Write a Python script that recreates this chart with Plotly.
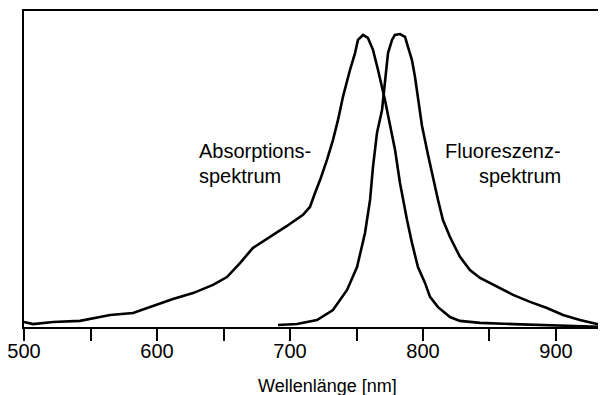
import plotly.graph_objects as go

# Absorption spectrum (wavelength nm, relative intensity)
abs_nm = [500.0, 506.8, 521.8, 542.1, 557.1, 564.7, 582.0, 594.7, 612.0, 627.1,
          642.1, 652.6, 662.4, 672.2, 682.7, 697.7, 709.8, 715.0, 718.8, 722.6,
          727.8, 732.3, 736.1, 739.8, 745.1, 748.9, 751.1, 754.9, 758.6, 762.4,
          766.2, 769.2, 771.4, 775.2, 779.0, 782.7, 785.0, 788.0, 791.7, 796.2,
          801.5, 805.3, 811.3, 820.3, 827.8, 842.9, 867.7, 893.2, 918.0, 937.6]
abs_val = [0.017, 0.010, 0.017, 0.021, 0.034, 0.041, 0.048, 0.068, 0.096, 0.116,
           0.144, 0.171, 0.219, 0.271, 0.301, 0.346, 0.384, 0.411, 0.459, 0.503,
           0.572, 0.640, 0.709, 0.788, 0.880, 0.938, 0.983, 1.000, 0.990, 0.949,
           0.880, 0.822, 0.777, 0.692, 0.606, 0.493, 0.435, 0.366, 0.288, 0.205,
           0.151, 0.103, 0.068, 0.034, 0.021, 0.014, 0.010, 0.007, 0.003, 0.000]

# Fluorescence spectrum
flu_nm = [691.0, 705.3, 720.3, 732.3, 742.9, 750.4, 756.4, 760.2, 762.4, 765.4,
          769.2, 771.4, 773.7, 776.7, 778.9, 782.7, 786.5, 788.7, 791.7, 794.0,
          796.2, 799.2, 803.8, 807.5, 811.3, 815.0, 820.3, 827.8, 835.3, 842.9,
          855.6, 867.7, 880.5, 893.2, 905.3, 918.0, 930.8, 937.6]
flu_val = [0.007, 0.010, 0.024, 0.058, 0.127, 0.205, 0.322, 0.435, 0.548, 0.664,
           0.743, 0.836, 0.938, 0.983, 1.000, 1.003, 0.993, 0.959, 0.914, 0.856,
           0.788, 0.690, 0.589, 0.510, 0.435, 0.366, 0.308, 0.240, 0.195, 0.168,
           0.137, 0.110, 0.086, 0.065, 0.041, 0.024, 0.010, 0.003]

tick_vals = [500, 550, 600, 650, 700, 750, 800, 850, 900]
tick_text = ["500", "", "600", "", "700", "", "800", "", "900"]

FONT = "Liberation Sans, Arial, Helvetica, sans-serif"

fig = go.Figure()
fig.add_trace(go.Scatter(x=abs_nm, y=abs_val, mode="lines",
                         line=dict(color="black", width=2.6), showlegend=False))
fig.add_trace(go.Scatter(x=flu_nm, y=flu_val, mode="lines",
                         line=dict(color="black", width=2.6), showlegend=False))

# the page body adds an 8px offset, so the figure is 8px smaller on each side
fig.update_layout(
    width=598, height=387,
    margin=dict(l=16, r=0, t=3, b=68, autoexpand=False),
    paper_bgcolor="white", plot_bgcolor="white",
    font=dict(family=FONT, color="black"),
    xaxis=dict(range=[500, 937.6], showgrid=False, zeroline=False,
               showline=True, linecolor="black", linewidth=2, mirror=True,
               ticks="outside", ticklen=12, tickwidth=2, tickcolor="black",
               tickvals=tick_vals, ticktext=tick_text, automargin=False,
               ticklabeloverflow="allow", ticklabelstandoff=-7,
               tickfont=dict(size=20, family=FONT, color="black")),
    yaxis=dict(range=[0, 1.082], showgrid=False, zeroline=False,
               showline=True, linecolor="black", linewidth=2, mirror=False,
               showticklabels=False, ticks="", automargin=False),
)

ann_font = dict(size=20, family=FONT, color="black")
fig.add_annotation(x=630.1, y=0.603, xref="x", yref="y", text="Absorptions-",
                   showarrow=False, xanchor="left", yanchor="middle", font=ann_font)
fig.add_annotation(x=630.1, y=0.517, xref="x", yref="y", text="spektrum",
                   showarrow=False, xanchor="left", yanchor="middle", font=ann_font)
fig.add_annotation(x=905.5, y=0.603, xref="x", yref="y", text="Fluoreszenz-",
                   showarrow=False, xanchor="right", yanchor="middle", font=ann_font)
fig.add_annotation(x=905.5, y=0.517, xref="x", yref="y", text="spektrum",
                   showarrow=False, xanchor="right", yanchor="middle", font=ann_font)
fig.add_annotation(x=0.521, y=-0.187, xref="paper", yref="paper",
                   text="Wellenlänge [nm]", showarrow=False,
                   xanchor="center", yanchor="middle",
                   font=dict(size=18, family=FONT, color="black"))

fig.write_html("out.html")
